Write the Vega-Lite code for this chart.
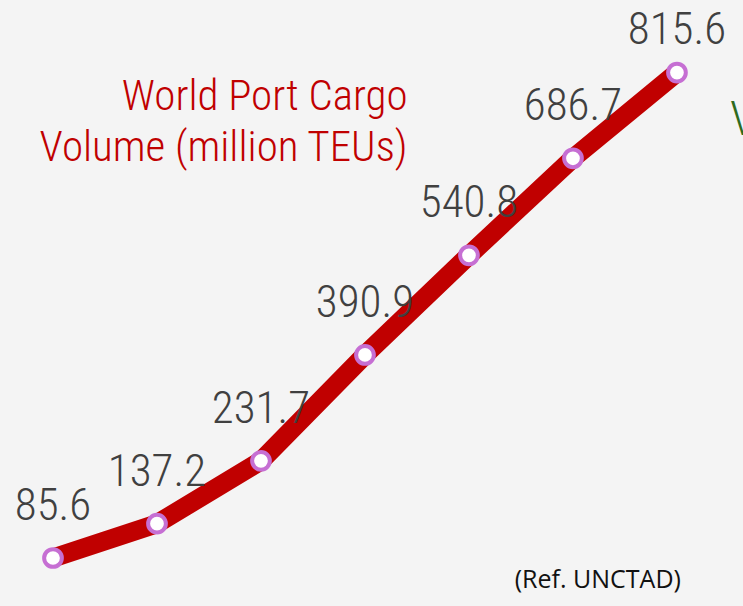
{
  "$schema": "https://vega.github.io/schema/vega-lite/v6.json",
  "width": 743,
  "height": 606,
  "autosize": {"type": "none"},
  "padding": 0,
  "background": "#f4f4f4",
  "config": {"view": {"stroke": null}},
  "datasets": {
    "cargo": [
      {"idx": 0, "teu": 85.6},
      {"idx": 1, "teu": 137.2},
      {"idx": 2, "teu": 231.7},
      {"idx": 3, "teu": 390.9},
      {"idx": 4, "teu": 540.8},
      {"idx": 5, "teu": 686.7},
      {"idx": 6, "teu": 815.6}
    ],
    "notes": [
      {"kind": "title", "idx": 3.41, "teu": 760, "label": "World Port Cargo\nVolume (million TEUs)"},
      {"kind": "ref", "idx": 4.44, "teu": 40.4, "label": "(Ref. UNCTAD)"},
      {"kind": "other", "idx": 6.51, "teu": 722, "label": "V"}
    ]
  },
  "encoding": {
    "x": {"field": "idx", "type": "quantitative", "scale": {"domain": [-0.5096, 6.635], "nice": false, "zero": false}, "axis": null},
    "y": {"field": "teu", "type": "quantitative", "scale": {"domain": [13.4, 924.7], "nice": false, "zero": false}, "axis": null}
  },
  "layer": [
    {
      "data": {"name": "cargo"},
      "mark": {"type": "line", "color": "#c00000", "strokeWidth": 19, "strokeJoin": "round", "strokeCap": "butt"}
    },
    {
      "data": {"name": "cargo"},
      "mark": {"type": "point", "shape": "circle", "filled": false, "fill": "#ffffff", "fillOpacity": 1, "stroke": "#c66fd3", "strokeWidth": 4, "size": 314, "opacity": 1}
    },
    {
      "data": {"name": "cargo"},
      "transform": [{"filter": "datum.idx < 6"}],
      "mark": {"type": "text", "font": "Roboto Condensed", "fontWeight": 300, "fontSize": 45, "color": "#404040", "align": "center", "baseline": "alphabetic", "dy": -38},
      "encoding": {"text": {"field": "teu", "type": "quantitative", "format": ".1f"}}
    },
    {
      "data": {"name": "cargo"},
      "transform": [{"filter": "datum.idx == 6"}],
      "mark": {"type": "text", "font": "Roboto Condensed", "fontWeight": 300, "fontSize": 45, "color": "#404040", "align": "center", "baseline": "alphabetic", "dy": -29},
      "encoding": {"text": {"field": "teu", "type": "quantitative", "format": ".1f"}}
    },
    {
      "data": {"name": "notes"},
      "transform": [{"filter": "datum.kind == 'title'"}],
      "mark": {"type": "text", "font": "Roboto Condensed", "fontWeight": 300, "fontSize": 43, "color": "#c00000", "align": "right", "baseline": "alphabetic", "lineBreak": "\n", "lineHeight": 51},
      "encoding": {"text": {"field": "label"}}
    },
    {
      "data": {"name": "notes"},
      "transform": [{"filter": "datum.kind == 'ref'"}],
      "mark": {"type": "text", "font": "Open Sans", "fontSize": 25, "color": "#111111", "align": "left", "baseline": "alphabetic"},
      "encoding": {"text": {"field": "label"}}
    },
    {
      "data": {"name": "notes"},
      "transform": [{"filter": "datum.kind == 'other'"}],
      "mark": {"type": "text", "font": "Roboto Condensed", "fontWeight": 300, "fontSize": 48, "color": "#2e6b1e", "align": "left", "baseline": "alphabetic"},
      "encoding": {"text": {"field": "label"}}
    }
  ]
}
